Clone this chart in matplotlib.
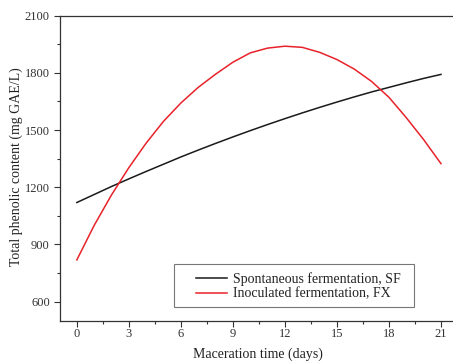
import matplotlib
matplotlib.use("Agg")
import matplotlib.pyplot as plt
from matplotlib.patches import Rectangle
from matplotlib.ticker import MultipleLocator

days = list(range(0, 22))
sf_values = [1120, 1162, 1204, 1244, 1283, 1321, 1359, 1395, 1430, 1464, 1497,
             1529, 1560, 1590, 1619, 1647, 1674, 1700, 1724, 1748, 1771, 1792]
fx_values = [819, 1000, 1160, 1303, 1432, 1546, 1642, 1724, 1793, 1856, 1905,
             1930, 1940, 1934, 1908, 1870, 1820, 1755, 1672, 1565, 1450, 1324]
series_labels = ["Spontaneous fermentation, SF", "Inoculated fermentation, FX"]
x_label = "Maceration time (days)"
y_label = "Total phenolic content (mg GAE/L)"
x_ticks = [0, 3, 6, 9, 12, 15, 18, 21]
y_ticks = [600, 900, 1200, 1500, 1800, 2100]

plt.rcParams['font.family'] = ['Liberation Serif', 'DejaVu Serif']

W, H = 453, 364
fig = plt.figure(figsize=(W / 100, H / 100), dpi=100)
ax = fig.add_axes([59.5 / W, 1 - 320.7 / H, (458.3 - 59.5) / W, (320.7 - 15.7) / H])

ax.plot(days, sf_values, color='#1a1a1a', lw=1.1, label=series_labels[0])
ax.plot(days, fx_values, color='#e8222a', lw=1.1, label=series_labels[1])

ax.set_xlim(-1, 22)
ax.set_ylim(500, 2100)
ax.set_xticks(x_ticks)
ax.set_yticks(y_ticks)
ax.xaxis.set_minor_locator(MultipleLocator(1.5))
ax.yaxis.set_minor_locator(MultipleLocator(150))

for s in ax.spines.values():
    s.set_color('#333333')
    s.set_linewidth(0.9)

ax.tick_params(which='major', direction='out', length=4, width=0.8, color='#333333',
               labelsize=9, labelcolor='#333333')
ax.tick_params(axis='x', which='major', pad=1.5)
ax.tick_params(axis='y', which='major', pad=3)
ax.tick_params(which='minor', direction='out', length=2, width=0.8, color='#333333')

ax.set_xlabel(x_label, fontsize=10, color='#222222')
ax.set_ylabel(y_label, fontsize=10, color='#222222')
ax.xaxis.set_label_coords(0.4977, -0.0895)
ax.xaxis.label.set_va('top')
ax.yaxis.set_label_coords(-0.0923, 0.505)

leg = ax.legend(loc='upper left', bbox_to_anchor=(195.7 / W, 1 - 272.3 / H),
                bbox_transform=fig.transFigure, frameon=False, fontsize=10,
                borderpad=0, borderaxespad=0, handlelength=2.26,
                handletextpad=0.43, labelspacing=0.1)
for t in leg.get_texts():
    t.set_color('#222222')

fig.patches.append(Rectangle((174 / W, 1 - 306.7 / H), (414.3 - 174) / W, 42.4 / H,
                             transform=fig.transFigure, fill=False,
                             edgecolor='#777777', linewidth=0.8))

fig.savefig("out.png", dpi=100)
